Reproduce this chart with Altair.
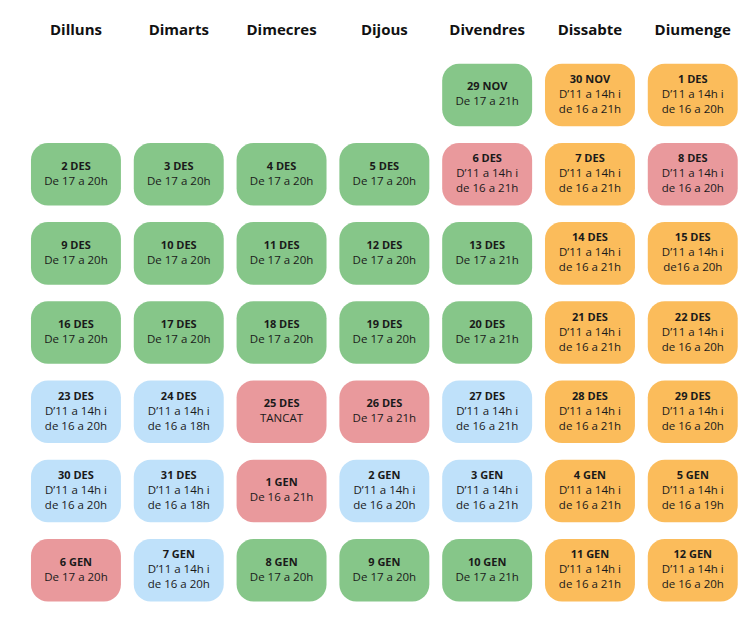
import altair as alt
import pandas as pd

days = ["Dilluns", "Dimarts", "Dimecres", "Dijous", "Divendres", "Dissabte", "Diumenge"]

A = "D’11 a 14h i\nde 16 a 21h"
B = "D’11 a 14h i\nde 16 a 20h"

# one list per week row (7 cells, None = empty)
dates = [
    [None, None, None, None, "29 NOV", "30 NOV", "1 DES"],
    ["2 DES", "3 DES", "4 DES", "5 DES", "6 DES", "7 DES", "8 DES"],
    ["9 DES", "10 DES", "11 DES", "12 DES", "13 DES", "14 DES", "15 DES"],
    ["16 DES", "17 DES", "18 DES", "19 DES", "20 DES", "21 DES", "22 DES"],
    ["23 DES", "24 DES", "25 DES", "26 DES", "27 DES", "28 DES", "29 DES"],
    ["30 DES", "31 DES", "1 GEN", "2 GEN", "3 GEN", "4 GEN", "5 GEN"],
    ["6 GEN", "7 GEN", "8 GEN", "9 GEN", "10 GEN", "11 GEN", "12 GEN"],
]
hours = [
    [None, None, None, None, "De 17 a 21h", A, B],
    ["De 17 a 20h", "De 17 a 20h", "De 17 a 20h", "De 17 a 20h", A, A, B],
    ["De 17 a 20h", "De 17 a 20h", "De 17 a 20h", "De 17 a 20h", "De 17 a 21h", A, "D’11 a 14h i\nde16 a 20h"],
    ["De 17 a 20h", "De 17 a 20h", "De 17 a 20h", "De 17 a 20h", "De 17 a 21h", A, B],
    [B, "D’11 a 14h i\nde 16 a 18h", "TANCAT", "De 17 a 21h", A, A, B],
    [B, "D’11 a 14h i\nde 16 a 18h", "De 16 a 21h", B, A, A, "D’11 a 14h i\nde 16 a 19h"],
    ["De 17 a 20h", B, "De 17 a 20h", "De 17 a 20h", "De 17 a 21h", A, B],
]
# g = green, o = orange, r = red, b = blue
status = [
    [None, None, None, None, "g", "o", "o"],
    ["g", "g", "g", "g", "r", "o", "r"],
    ["g", "g", "g", "g", "g", "o", "o"],
    ["g", "g", "g", "g", "g", "o", "o"],
    ["b", "b", "r", "r", "b", "o", "o"],
    ["b", "b", "r", "b", "b", "o", "o"],
    ["r", "b", "g", "g", "g", "o", "o"],
]

cells, lines = [], []
LH = 0.19
for r, row in enumerate(dates):
    for c, d in enumerate(row):
        if d is None:
            continue
        cells.append({"col": c, "row": r, "status": status[r][c],
                      "x0": c - 0.4375, "x1": c + 0.4375,
                      "y0": r - 0.395, "y1": r + 0.395})
        ls = [d] + hours[r][c].split("\n")
        n = len(ls)
        for i, t in enumerate(ls):
            lines.append({"col": c, "y": r + (i - (n - 1) / 2) * LH,
                          "text": t, "bold": i == 0})

cells = pd.DataFrame(cells)
lines = pd.DataFrame(lines)
heads = pd.DataFrame({"col": list(range(7)), "y": [-0.82] * 7, "text": days})

W, H = 734, 607
xs = alt.Scale(domain=[-0.661, 6.479], range=[0, W])
ys = alt.Scale(domain=[-1.098, 6.566], range=[0, H])

rects = alt.Chart(cells).mark_rect(cornerRadius=17).encode(
    x=alt.X("x0:Q", scale=xs, axis=None),
    x2="x1:Q",
    y=alt.Y("y0:Q", scale=ys, axis=None),
    y2="y1:Q",
    color=alt.Color("status:N", legend=None,
                    scale=alt.Scale(domain=["g", "o", "r", "b"],
                                    range=["#86c689", "#fbbc5b", "#e9999c", "#bfe1fa"])),
)

bold_txt = alt.Chart(lines[lines["bold"]]).mark_text(
    font="Open Sans", fontSize=11, fontWeight="bold", color="#1a1a1a", baseline="middle"
).encode(x=alt.X("col:Q", scale=xs, axis=None),
         y=alt.Y("y:Q", scale=ys, axis=None), text="text:N")

reg_txt = alt.Chart(lines[~lines["bold"]]).mark_text(
    font="Open Sans", fontSize=11.5, color="#1a1a1a", baseline="middle"
).encode(x=alt.X("col:Q", scale=xs, axis=None),
         y=alt.Y("y:Q", scale=ys, axis=None), text="text:N")

head_txt = alt.Chart(heads).mark_text(
    font="Open Sans", fontSize=15, fontWeight="bold", color="#111111", baseline="middle"
).encode(x=alt.X("col:Q", scale=xs, axis=None),
         y=alt.Y("y:Q", scale=ys, axis=None), text="text:N")

chart = alt.layer(rects, bold_txt, reg_txt, head_txt).properties(
    width=W, height=H, padding=0, autosize=alt.AutoSizeParams(type="none")
).configure_view(stroke=None)

chart.save("out.html", embed_options={"renderer": "svg", "actions": False})
